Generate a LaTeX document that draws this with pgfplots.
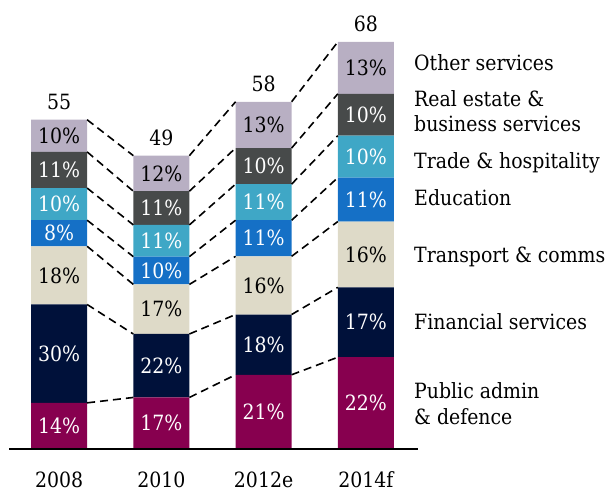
\documentclass[border=0pt]{standalone}
\usepackage{fontspec}
\setmainfont{DejaVu Serif Condensed}
\usepackage{pgfplots}
\usepackage{pgfplotstable}
\pgfplotsset{compat=1.18}

\definecolor{cPub}{HTML}{87004F}
\definecolor{cFin}{HTML}{00113A}
\definecolor{cTra}{HTML}{DEDAC8}
\definecolor{cEdu}{HTML}{1570C6}
\definecolor{cTrd}{HTML}{3FA7C6}
\definecolor{cRea}{HTML}{474A4A}
\definecolor{cOth}{HTML}{B8AFC3}

% segment values (bn) and share labels
\pgfplotstableread{
x v lab
0 7.71 14\%
1 8.61 17\%
2 12.40 21\%
3 15.33 22\%
}\tPub
\pgfplotstableread{
x v lab
0 16.43 30\%
1 10.60 22\%
2 10.06 18\%
3 11.67 17\%
}\tFin
\pgfplotstableread{
x v lab
0 9.72 18\%
1 8.28 17\%
2 9.72 16\%
3 11.00 16\%
}\tTra
\pgfplotstableread{
x v lab
0 4.36 8\%
1 4.64 10\%
2 6.03 11\%
3 7.33 11\%
}\tEdu
\pgfplotstableread{
x v lab
0 5.37 10\%
1 5.30 11\%
2 6.03 11\%
3 7.00 10\%
}\tTrd
\pgfplotstableread{
x v lab
0 6.04 11\%
1 5.63 11\%
2 6.03 10\%
3 7.00 10\%
}\tRea
\pgfplotstableread{
x v lab
0 5.37 10\%
1 5.94 12\%
2 7.73 13\%
3 8.67 13\%
}\tOth

\newcommand{\lblfont}{\fontsize{21}{25}\selectfont}

\pgfplotsset{
  base/.style={
    scale only axis, width=409pt, height=449pt,
    xmin=-0.49, xmax=3.51, ymin=0, ymax=75,
    hide axis, clip=false,
  },
  seg/.style={
    fill=#1, draw=none,
    nodes near coords, point meta=explicit symbolic,
    every node near coord/.append style={anchor=center, inner sep=0pt,
      font=\lblfont},
  },
  conn/.style={black, line width=1.6pt, dash pattern=on 8pt off 5pt, mark=none, unbounded coords=jump},
}

\begin{document}
\begin{tikzpicture}
\useasboundingbox (-9pt,-43pt) rectangle (601pt,449pt);
\begin{axis}[base, ybar stacked, bar width=56pt]
\addplot[seg=cPub, every node near coord/.append style={text=white}] table[x=x,y=v,meta=lab]{\tPub};
\addplot[seg=cFin, every node near coord/.append style={text=white}] table[x=x,y=v,meta=lab]{\tFin};
\addplot[seg=cTra, every node near coord/.append style={text=black}] table[x=x,y=v,meta=lab]{\tTra};
\addplot[seg=cEdu, every node near coord/.append style={text=white}] table[x=x,y=v,meta=lab]{\tEdu};
\addplot[seg=cTrd, every node near coord/.append style={text=white}] table[x=x,y=v,meta=lab]{\tTrd};
\addplot[seg=cRea, every node near coord/.append style={text=white}] table[x=x,y=v,meta=lab]{\tRea};
\addplot[seg=cOth, every node near coord/.append style={text=black}] table[x=x,y=v,meta=lab]{\tOth};
\end{axis}
\begin{axis}[base]
% baseline
\addplot[black, line width=1.5pt, mark=none] coordinates {(-0.49,0) (3.51,0)};
% connectors between cumulative boundaries
\addplot[conn] coordinates {(0.274,7.71) (0.726,8.61) (nan,nan) (1.274,8.61) (1.726,12.40) (nan,nan) (2.274,12.40) (2.726,15.33)};
\addplot[conn] coordinates {(0.274,24.14) (0.726,19.21) (nan,nan) (1.274,19.21) (1.726,22.46) (nan,nan) (2.274,22.46) (2.726,27.00)};
\addplot[conn] coordinates {(0.274,33.86) (0.726,27.49) (nan,nan) (1.274,27.49) (1.726,32.18) (nan,nan) (2.274,32.18) (2.726,38.00)};
\addplot[conn] coordinates {(0.274,38.22) (0.726,32.13) (nan,nan) (1.274,32.13) (1.726,38.21) (nan,nan) (2.274,38.21) (2.726,45.33)};
\addplot[conn] coordinates {(0.274,43.59) (0.726,37.43) (nan,nan) (1.274,37.43) (1.726,44.24) (nan,nan) (2.274,44.24) (2.726,52.33)};
\addplot[conn] coordinates {(0.274,49.63) (0.726,43.06) (nan,nan) (1.274,43.06) (1.726,50.27) (nan,nan) (2.274,50.27) (2.726,59.33)};
\addplot[conn] coordinates {(0.274,55.00) (0.726,49.00) (nan,nan) (1.274,49.00) (1.726,58.00) (nan,nan) (2.274,58.00) (2.726,68.00)};
% totals
\addplot[draw=none, mark=none, nodes near coords, point meta=explicit symbolic,
  every node near coord/.append style={anchor=center, inner sep=0pt, font=\lblfont, text=black, yshift=18pt}]
  table[meta=lab]{
x y lab
0 55 55
1 49 49
2 58 58
3 68 68
};
% category labels
\addplot[draw=none, mark=none, nodes near coords, point meta=explicit symbolic,
  every node near coord/.append style={anchor=base, inner sep=0pt, font=\lblfont, text=black, yshift=-38pt}]
  table[meta=lab]{
x y lab
0 0 2008
1 0 2010
2 0 2012e
3 0 2014f
};
% series labels
\begin{scope}[every node/.style={anchor=base west, inner sep=0pt, font=\lblfont}]
\node at (axis cs:3.471,63.19) {Other services};
\node at (axis cs:3.471,57.29) {Real estate \&};
\node at (axis cs:3.471,53.00) {business services};
\node at (axis cs:3.471,46.88) {Trade \& hospitality};
\node at (axis cs:3.471,40.59) {Education};
\node at (axis cs:3.471,31.23) {Transport \& comms};
\node at (axis cs:3.471,19.88) {Financial services};
\node at (axis cs:3.471,8.47) {Public admin};
\node at (axis cs:3.471,4.13) {\& defence};
\end{scope}
\end{axis}
\end{tikzpicture}
\end{document}
